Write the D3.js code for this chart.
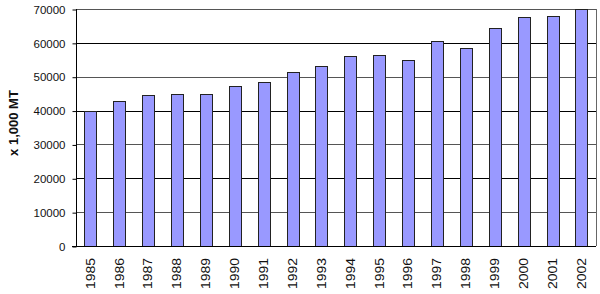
<!DOCTYPE html>
<html><head><meta charset="utf-8">
<script src="https://cdn.jsdelivr.net/npm/d3@7"></script>
<style>body{margin:0;background:#fff}svg{display:block}</style>
</head><body>
<svg id="c" width="600" height="294"></svg>
<script>
const years = ["1985","1986","1987","1988","1989","1990","1991","1992","1993","1994","1995","1996","1997","1998","1999","2000","2001","2002"];
const values = [40000,42900,44500,44800,44800,47150,48500,51300,53100,56100,56400,55000,60450,58400,64300,67500,67850,70000];
const yTicks = [0,10000,20000,30000,40000,50000,60000,70000];
const yTitle = "x 1,000 MT";

const svg = d3.select("#c");
const L = 76, R = 596, T = 9, B = 246;
const x = d3.scaleBand().domain(years).range([L, R]).paddingInner(0.58).paddingOuter(0.29);
const y = d3.scaleLinear().domain([0, 70000]).range([B, T]);

// gridlines
svg.append("g").selectAll("line").data(yTicks.filter(d => d > 0)).join("line")
  .attr("x1", L).attr("x2", R)
  .attr("y1", d => Math.round(y(d)) + 0.5).attr("y2", d => Math.round(y(d)) + 0.5)
  .attr("stroke", d => (d / 10000) % 2 === 0 ? "#000" : "#555").attr("stroke-width", 1);

// right border
svg.append("line").attr("x1", R + 0.5).attr("x2", R + 0.5).attr("y1", T).attr("y2", B)
  .attr("stroke", "#666");

// bars
svg.append("g").selectAll("rect").data(years).join("rect")
  .attr("x", d => Math.round(x(d)) + 0.5)
  .attr("y", (d, i) => Math.round(y(values[i])) + 0.5)
  .attr("width", Math.round(x.bandwidth()))
  .attr("height", (d, i) => Math.round(B - y(values[i])))
  .attr("fill", "#9999ff").attr("stroke", "#222").attr("stroke-width", 1);

// y axis
const yAxis = d3.axisLeft(y).tickValues(yTicks).tickSize(4).tickPadding(7).tickFormat(d3.format("d"));
const ga = svg.append("g").attr("transform", `translate(${L + 0.5},0.5)`).call(yAxis);
ga.select(".domain").attr("stroke", "#000").attr("d", `M0,${T - 0.5}V${B - 0.5}`);
ga.selectAll(".tick line").attr("stroke", "#000");
ga.selectAll(".tick text").attr("font-family", "Liberation Sans, Arial, sans-serif")
  .attr("font-size", "11.5px").attr("fill", "#111");

// x axis line
svg.append("line").attr("x1", L - 4).attr("x2", R).attr("y1", B + 0.5).attr("y2", B + 0.5).attr("stroke", "#000");

// x labels
const xAxis = d3.axisBottom(x).tickSize(0).tickPadding(0);
const gx = svg.append("g").attr("transform", `translate(0,${B})`).call(xAxis);
gx.select(".domain").remove();
gx.selectAll(".tick text")
  .attr("font-family", "Liberation Sans, Arial, sans-serif").attr("font-size", "12px").attr("fill", "#111")
  .attr("text-anchor", "end").attr("dy", "0.35em")
  .attr("transform", "translate(0,12) rotate(-90)")
  .attr("x", 0).attr("y", 0)
  .attr("textLength", 31).attr("lengthAdjust", "spacingAndGlyphs");

// y title
svg.append("text").attr("transform", `translate(13,123) rotate(-90)`)
  .attr("text-anchor", "middle").attr("dy", "0.35em")
  .attr("font-family", "Liberation Sans, Arial, sans-serif").attr("font-weight", "bold")
  .attr("font-size", "13px").attr("fill", "#111").text(yTitle);
</script>
</body></html>
